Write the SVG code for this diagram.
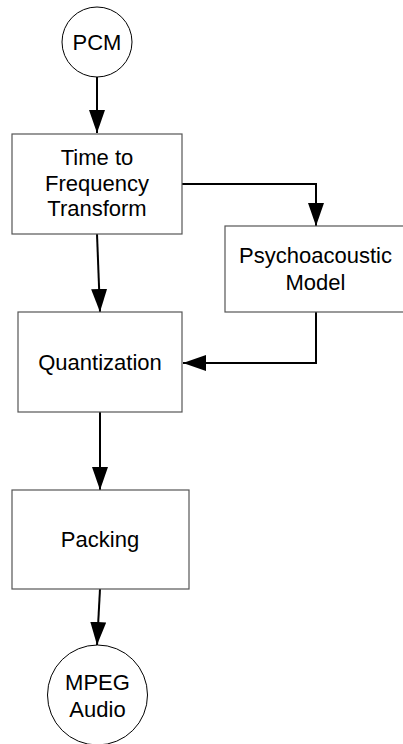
<svg xmlns="http://www.w3.org/2000/svg" width="403" height="744" viewBox="0 0 403 744">
  <style>
    .box { fill: #ffffff; stroke: #555555; stroke-width: 1.2; }
    .term { fill: #ffffff; stroke: #000000; stroke-width: 1; }
    .label { font-family: "Liberation Sans", Arial, sans-serif; font-size: 22px; fill: #000000; text-anchor: middle; }
    .wire { fill: none; stroke: #000000; stroke-width: 2; marker-end: url(#head); }
  </style>
  <defs>
    <marker id="head" viewBox="0 0 23 16" refX="23" refY="8" markerWidth="23" markerHeight="16" markerUnits="userSpaceOnUse" orient="auto">
      <path d="M0,0 L23,8 L0,16 Z" fill="#000000"/>
    </marker>
  </defs>

  <rect width="403" height="744" fill="#ffffff"/>

  <g id="connectors">
    <path class="wire" d="M97,77 L97,133"/>
    <path class="wire" d="M97,234 L100,312"/>
    <path class="wire" d="M182,184 L316,184 L316,226"/>
    <path class="wire" d="M316,312 L316,363 L183,363"/>
    <path class="wire" d="M100,412 L100,490"/>
    <path class="wire" d="M100,589 L97,645"/>
  </g>

  <g id="pcm">
    <circle class="term" cx="97" cy="42" r="35"/>
    <text class="label" x="97" y="50">PCM</text>
  </g>

  <g id="time-to-frequency">
    <rect class="box" x="12" y="134" width="170" height="100"/>
    <text class="label" x="97" y="165">Time to</text>
    <text class="label" x="97" y="190.5">Frequency</text>
    <text class="label" x="97" y="216">Transform</text>
  </g>

  <g id="psychoacoustic-model">
    <rect class="box" x="225" y="226" width="181" height="86"/>
    <text class="label" x="315.5" y="263">Psychoacoustic</text>
    <text class="label" x="315.5" y="290">Model</text>
  </g>

  <g id="quantization">
    <rect class="box" x="18" y="312" width="164" height="100"/>
    <text class="label" x="100" y="370">Quantization</text>
  </g>

  <g id="packing">
    <rect class="box" x="12" y="490" width="177" height="99"/>
    <text class="label" x="100" y="547">Packing</text>
  </g>

  <g id="mpeg-audio">
    <circle class="term" cx="97.5" cy="695" r="50"/>
    <text class="label" x="97.5" y="690">MPEG</text>
    <text class="label" x="97.5" y="716.5">Audio</text>
  </g>
</svg>
